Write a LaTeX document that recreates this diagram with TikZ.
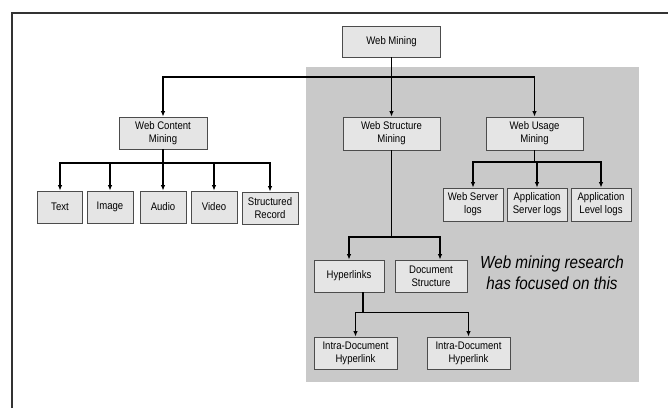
\documentclass[tikz,border=0pt]{standalone}
\usepackage{fontspec}
\setmainfont{Liberation Sans}[FakeStretch=0.87]
\usetikzlibrary{arrows.meta,positioning}
\tikzset{
  box/.style={draw=black!70,fill=black!10,line width=0.8pt,align=center,inner sep=1pt,
    font=\fontsize{11}{13}\selectfont},
  link/.style={line width=1.2pt},
  arr/.style={link,-{Latex[length=5.5pt,width=4.5pt]}}
}

\begin{document}
\begin{tikzpicture}[x=1pt,y=-1pt]
    \colorlet{focusgray}{black!21}
    \useasboundingbox (0,0) rectangle (668,408);

    % frame and focus area
    \draw[black!80,line width=1.5pt] (12,408) -- (12,13) -- (668,13);
    \fill[focusgray] (306,67) rectangle (639,382);

    \node[box,minimum width=98,minimum height=31] (wm) at (391.5,41.5) {Web Mining};

    \node[box,minimum width=88,minimum height=32] (wcm) at (163,133) {Web Content\\Mining};
    \node[box,minimum width=97,minimum height=33] (wsm) at (391.5,133.5) {Web Structure\\Mining};
    \node[box,minimum width=97,minimum height=33] (wum) at (534.5,133.5) {Web Usage\\Mining};

    % content mining leaves
    \node[box,minimum width=45,minimum height=32] (text) at (60,207) {Text};
    \node[box,minimum width=46,minimum height=32] (image) at (110,207) {Image};
    \node[box,minimum width=46,minimum height=32] (audio) at (163,207) {Audio};
    \node[box,minimum width=46,minimum height=32] (video) at (214,207) {Video};
    \node[box,minimum width=56,minimum height=32] (rec) at (270,208) {Structured\\Record};

    % usage mining leaves
    \node[box,minimum width=60,minimum height=33] (wsl) at (473,204.5) {Web Server\\logs};
    \node[box,minimum width=60,minimum height=33] (asl) at (537,204.5) {Application\\Server logs};
    \node[box,minimum width=60,minimum height=33] (all) at (601,204.5) {Application\\Level logs};

    % structure mining
    \node[box,minimum width=70,minimum height=32] (hyp) at (349,276) {Hyperlinks};
    \node[box,minimum width=72,minimum height=32] (ds) at (431,276) {Document\\Structure};
    \node[box,minimum width=83,minimum height=32] (intra1) at (355.5,353) {Intra-Document\\Hyperlink};
    \node[box,minimum width=83,minimum height=32] (intra2) at (468.5,353) {Intra-Document\\Hyperlink};

    \node[font=\fontsize{17.5}{21}\selectfont\itshape,align=center] (note) at (552,273)
        {Web mining research\\has focused on this};

    % connectors
    \coordinate (topbus) at (391.5,77);
    \draw[link] (wm) -- (topbus);
    \draw[arr] (topbus) -| (wcm);
    \draw[arr] (topbus) -- (wsm);
    \draw[arr] (topbus) -| (wum);

    \coordinate (cbus) at (163,163);
    \draw[link] (wcm) -- (cbus);
    \foreach \n in {text,image,audio,video,rec} {
        \draw[arr] (cbus) -| (\n);
    }

    \coordinate (ubus) at (534.5,162);
    \draw[link] (wum) -- (ubus);
    \foreach \n in {wsl,asl,all} {
        \draw[arr] (ubus) -| (\n);
    }

    \coordinate (sbus) at (391.5,237);
    \draw[link] (wsm) -- (sbus);
    \draw[arr] (sbus) -| (hyp);
    \draw[arr] (sbus) -| ([xshift=9pt]ds.north);

    \draw[link] ([xshift=14pt]hyp.south) -- ++(0,20) coordinate (hbus);
    \draw[arr] (hbus) -| (intra1);
    \draw[arr] (hbus) -| (intra2);
\end{tikzpicture}
\end{document}
